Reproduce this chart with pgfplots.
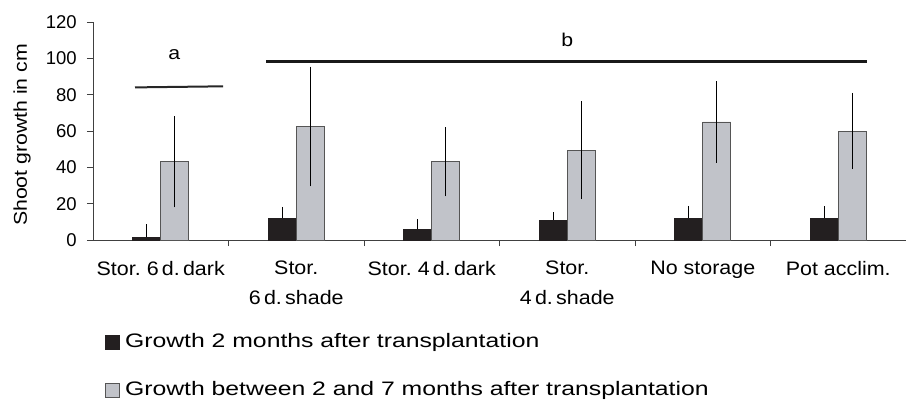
\documentclass[border=0pt]{standalone}
\usepackage{fontspec}
\setmainfont[FakeStretch=1.15]{Liberation Sans}
\newfontfamily\legfont[FakeStretch=1.27]{Liberation Sans}
\newfontfamily\tickfont[FakeStretch=1.1]{Liberation Sans}
\newfontfamily\numfont{Liberation Sans}
\usepackage{pgfplots}
\usepackage{pgfplotstable}
\pgfplotsset{compat=1.18}
\definecolor{darkbar}{HTML}{231F20}
\definecolor{greybar}{HTML}{C1C3C9}
\definecolor{edge}{HTML}{555555}

\pgfplotstableread{
x d de g ge
0 1.5 7.3 43 25
1 12 6.3 62.5 33
2 6 5.5 43 19
3 11 4.2 49.5 27
4 12 6.8 65 22.5
5 12 6.5 60 21
}\data

\begin{document}
\fontsize{18.5bp}{22bp}\selectfont
\begin{tikzpicture}
\begin{axis}[
  scale only axis, width=813bp, height=218bp,
  xmin=-0.5, xmax=5.5, ymin=0, ymax=120,
  axis lines*=left,
  axis line style={draw=black!75, line width=0.9bp},
  ybar=0pt, bar width=28bp,
  ytick={0,20,...,120},
  xtick={0,...,5},
  xticklabels={{Stor.\ 6\,d.\,dark},{Stor.\\6\,d.\,shade},{Stor.\ 4\,d.\,dark},{Stor.\\4\,d.\,shade},{No storage},{Pot acclim.}},
  xticklabel style={align=center, font=\tickfont\fontsize{19.5bp}{29.5bp}\selectfont, yshift=-9bp},
  yticklabel style={font=\numfont\fontsize{18.5bp}{22bp}\selectfont, xshift=-4bp},
  /pgf/number format/assume math mode=true,
  major x tick style={draw=none},
  minor xtick={0.5,1.5,...,4.5},
  tick align=outside, major tick length=6bp, minor tick length=6bp,
  tick style={draw=black!75, line width=0.9bp},
  ylabel={Shoot growth in cm},
  every axis y label/.style={at={(axis description cs:-0.0873,0.482)}, rotate=90, anchor=center, font=\fontsize{18.5bp}{22bp}\selectfont},
  legend style={at={(axis description cs:0.0148,-0.42)}, anchor=north west, draw=none, fill=none, row sep=27bp, font=\legfont\fontsize{19.5bp}{23bp}\selectfont, inner sep=0pt},
  legend cell align=left,
  clip=false,
]
\addplot[fill=darkbar, draw=darkbar, line width=0.6bp,
  legend image code/.code={\draw[fill=darkbar, draw=darkbar] (0bp,-7bp) rectangle (14bp,7bp); \path (17bp,0bp);},
  error bars/.cd, y dir=plus, y explicit, error mark=none,
  error bar style={line width=1.2bp, black}]
  table[x=x, y=d, y error=de] {\data};
\addlegendentry{Growth 2 months after transplantation}
\addplot[fill=greybar, draw=edge, line width=0.8bp,
  legend image code/.code={\draw[fill=greybar, draw=edge, line width=0.8bp] (0bp,-7bp) rectangle (14bp,7bp); \path (17bp,0bp);},
  error bars/.cd, y dir=both, y explicit, error mark=none,
  error bar style={line width=1.2bp, black}]
  table[x=x, y=g, y error=ge] {\data};
\addlegendentry{Growth between 2 and 7 months after transplantation}
\addplot[sharp plot, line width=2bp, black!85, forget plot] coordinates {(-0.19,84.0) (0.46,84.6)};
\addplot[sharp plot, line width=3bp, black!90, forget plot] coordinates {(0.78,98.5) (5.21,98.5)};
\node[font=\fontsize{18.5bp}{22bp}\selectfont] at (axis cs:0.1,102) {a};
\node[font=\fontsize{18.5bp}{22bp}\selectfont] at (axis cs:3.0,110) {b};
\end{axis}
\pgfresetboundingbox
\path ([xshift=-93bp,yshift=-163bp]current axis.south west) rectangle ([xshift=1bp,yshift=22bp]current axis.north east);
\end{tikzpicture}
\end{document}
